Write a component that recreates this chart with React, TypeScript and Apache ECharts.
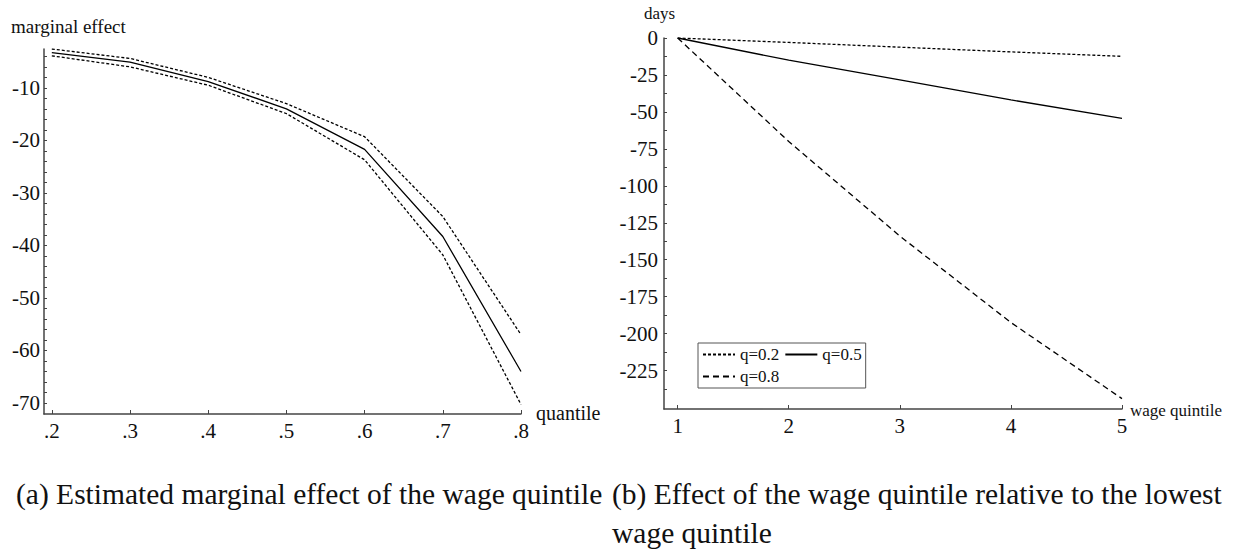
import React, { useEffect, useRef } from "react";
import * as echarts from "echarts";

// ---- Data ----
const quantiles = [0.2, 0.3, 0.4, 0.5, 0.6, 0.7, 0.8];
const effectEstimate = [-3.3, -5.1, -8.8, -14.0, -21.7, -38.3, -64.0];
const effectUpper = [-2.6, -4.4, -8.0, -13.0, -19.3, -34.5, -57.0];
const effectLower = [-3.9, -6.0, -9.5, -14.9, -23.7, -41.8, -70.3];

const wageQuintiles = [1, 2, 3, 4, 5];
const daysQ02 = [0, -3.0, -6.2, -9.4, -12.4];
const daysQ05 = [0, -15.0, -28.3, -41.9, -54.4];
const daysQ08 = [0, -70.0, -134.0, -192.5, -244.0];

const leftYLabels = [-10, -20, -30, -40, -50, -60, -70];
const rightYLabels = [0, -25, -50, -75, -100, -125, -150, -175, -200, -225];

const captionA = "(a) Estimated marginal effect of the wage quintile";
const captionB1 = "(b) Effect of the wage quintile relative to the lowest";
const captionB2 = "wage quintile";

const FONT = "Liberation Serif, Times New Roman, serif";

const pairs = (xs: number[], ys: number[]) => xs.map((x, i) => [x, ys[i]]);

export default function App() {
  const ref = useRef<HTMLDivElement>(null);

  useEffect(() => {
    if (!ref.current) return;
    const chart = echarts.init(ref.current, null, { renderer: "svg" });

    const leftYTicks: number[] = [];
    for (let v = -70; v <= -4; v += 2) leftYTicks.push(v);
    const rightYTicks: number[] = [];
    for (let v = -237.5; v <= 0; v += 12.5) rightYTicks.push(v);

    const axisLine = { show: true, onZero: false, lineStyle: { color: "#444", width: 1.5 } };
    const labelStyle = { fontFamily: FONT, fontSize: 21, color: "#111" };

    const option: any = {
      animation: false,
      backgroundColor: "#fff",
      textStyle: { fontFamily: FONT, fontSize: 21, color: "#111" },
      grid: [
        { left: 44, top: 49, width: 477, height: 365 },
        { left: 664, top: 38, width: 458, height: 371 },
      ],
      xAxis: [
        {
          type: "value",
          gridIndex: 0,
          min: 0.19,
          max: 0.8,
          axisLine,
          axisTick: { show: true, inside: true, length: 4, customValues: quantiles, lineStyle: { color: "#444" } },
          axisLabel: {
            ...labelStyle,
            margin: 6,
            customValues: quantiles,
            formatter: (v: number) => "." + Math.round(v * 10),
          },
          splitLine: { show: false },
        },
        {
          type: "value",
          gridIndex: 1,
          min: 0.877,
          max: 5,
          axisLine,
          axisTick: { show: true, inside: true, length: 4, customValues: wageQuintiles, lineStyle: { color: "#444" } },
          axisLabel: {
            ...labelStyle,
            margin: 6,
            customValues: wageQuintiles,
            formatter: (v: number) => String(Math.round(v)),
          },
          splitLine: { show: false },
        },
      ],
      yAxis: [
        {
          type: "value",
          gridIndex: 0,
          min: -72.1,
          max: -2.6,
          axisLine,
          axisTick: { show: true, inside: true, length: 3, customValues: leftYTicks, lineStyle: { color: "#444" } },
          axisLabel: { ...labelStyle, margin: 4, customValues: leftYLabels, formatter: (v: number) => String(v) },
          splitLine: { show: false },
        },
        {
          type: "value",
          gridIndex: 1,
          min: -251,
          max: 0,
          axisLine,
          axisTick: { show: true, inside: true, length: 3, customValues: rightYTicks, lineStyle: { color: "#444" } },
          axisLabel: { ...labelStyle, margin: 6, customValues: rightYLabels, formatter: (v: number) => String(v) },
          splitLine: { show: false },
        },
      ],
      legend: {
        data: ["q=0.2", "q=0.5", "q=0.8"],
        left: 698,
        top: 343,
        width: 168,
        orient: "horizontal",
        itemWidth: 32,
        itemHeight: 10,
        itemGap: 5,
        padding: [3, 4, 3, 4],
        borderColor: "#555",
        borderWidth: 1,
        backgroundColor: "#fff",
        itemStyle: { color: "rgba(0,0,0,0)", borderWidth: 0, opacity: 0 },
        textStyle: { fontFamily: FONT, fontSize: 17, color: "#111" },
      },
      series: [
        {
          name: "upper bound",
          type: "line",
          xAxisIndex: 0,
          yAxisIndex: 0,
          symbol: "none",
          data: pairs(quantiles, effectUpper),
          lineStyle: { color: "#000", width: 1.3, type: [3, 2] },
        },
        {
          name: "estimate",
          type: "line",
          xAxisIndex: 0,
          yAxisIndex: 0,
          symbol: "none",
          data: pairs(quantiles, effectEstimate),
          lineStyle: { color: "#000", width: 1.3, type: "solid" },
        },
        {
          name: "lower bound",
          type: "line",
          xAxisIndex: 0,
          yAxisIndex: 0,
          symbol: "none",
          data: pairs(quantiles, effectLower),
          lineStyle: { color: "#000", width: 1.3, type: [3, 2] },
        },
        {
          name: "q=0.2",
          type: "line",
          xAxisIndex: 1,
          yAxisIndex: 1,
          symbol: "none",
          itemStyle: { color: "#000" },
          data: pairs(wageQuintiles, daysQ02),
          lineStyle: { color: "#000", width: 1.3, type: [3, 2] },
        },
        {
          name: "q=0.5",
          type: "line",
          xAxisIndex: 1,
          yAxisIndex: 1,
          symbol: "none",
          itemStyle: { color: "#000" },
          data: pairs(wageQuintiles, daysQ05),
          lineStyle: { color: "#000", width: 1.3, type: "solid" },
        },
        {
          name: "q=0.8",
          type: "line",
          xAxisIndex: 1,
          yAxisIndex: 1,
          symbol: "none",
          itemStyle: { color: "#000" },
          data: pairs(wageQuintiles, daysQ08),
          lineStyle: { color: "#000", width: 1.3, type: [6, 4] },
        },
      ],
      graphic: [
        {
          type: "text",
          x: 11,
          y: 26,
          style: { text: "marginal effect", fontFamily: FONT, fontSize: 19, fill: "#111", textVerticalAlign: "middle" },
        },
        {
          type: "text",
          x: 536,
          y: 413,
          style: { text: "quantile", fontFamily: FONT, fontSize: 20, fill: "#111", textVerticalAlign: "middle" },
        },
        {
          type: "text",
          x: 644,
          y: 13,
          style: { text: "days", fontFamily: FONT, fontSize: 17, fill: "#111", textVerticalAlign: "middle" },
        },
        {
          type: "text",
          x: 1130,
          y: 410,
          style: { text: "wage quintile", fontFamily: FONT, fontSize: 17, fill: "#111", textVerticalAlign: "middle" },
        },
        {
          type: "text",
          x: 16,
          y: 494,
          style: { text: captionA, fontFamily: FONT, fontSize: 29.5, fill: "#111", textVerticalAlign: "middle" },
        },
        {
          type: "text",
          x: 612,
          y: 494,
          style: { text: captionB1, fontFamily: FONT, fontSize: 29.5, fill: "#111", textVerticalAlign: "middle" },
        },
        {
          type: "text",
          x: 612,
          y: 533,
          style: { text: captionB2, fontFamily: FONT, fontSize: 29.5, fill: "#111", textVerticalAlign: "middle" },
        },
      ],
    };

    chart.setOption(option);
    return () => chart.dispose();
  }, []);

  return (
    <div
      ref={ref}
      style={{ position: "absolute", left: 0, top: 0, width: 1233, height: 551, background: "#fff" }}
    />
  );
}
